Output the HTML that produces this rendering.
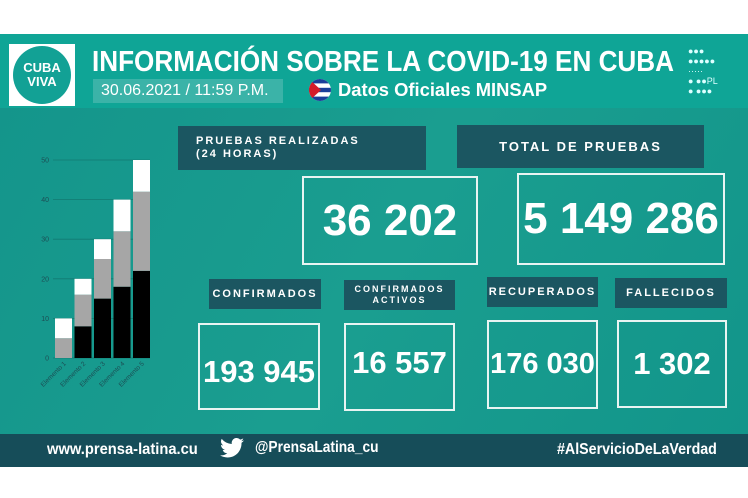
<!DOCTYPE html>
<html><head><meta charset="utf-8"><style>
*{margin:0;padding:0;box-sizing:border-box}
body{width:748px;height:498px;background:#fff;position:relative;overflow:hidden;font-family:"Liberation Sans",sans-serif;color:#fff}
.abs{position:absolute}
.lbl{position:absolute;background:#1b5661;font-weight:bold;font-size:11px;letter-spacing:2px;display:flex;align-items:center;justify-content:center;text-align:center;line-height:13px}
.box{position:absolute;border:2px solid #e8f4f2;display:flex;align-items:center;justify-content:center;font-weight:bold;font-size:31px;white-space:nowrap}
.cond{display:inline-block;transform-origin:left center;white-space:nowrap;font-weight:bold}
</style></head><body>
<div class="abs" style="left:0;top:34px;width:748px;height:74px;background:#0fa596"></div>
<div class="abs" style="left:0;top:108px;width:748px;height:326px;background:linear-gradient(120deg,#14958b,#1a9e90 50%,#12958a)"></div>
<div class="abs" style="left:9px;top:44px;width:66px;height:62px;background:#fff;display:flex;align-items:center;justify-content:center">
 <div style="width:58px;height:58px;border-radius:50%;background:#12a195;text-align:center;font-weight:bold;font-size:13px;line-height:14px;padding-top:15px">CUBA<br>VIVA</div></div>
<div class="abs" style="left:92px;top:46px;font-size:29px;line-height:32px"><span class="cond" style="transform:scaleX(0.9)">INFORMACIÓN SOBRE LA COVID-19 EN CUBA</span></div>
<div class="abs" style="left:93px;top:79px;width:190px;height:24px;background:#3bb3a8;font-size:16px;line-height:24px;padding-left:8px"><span class="cond" style="font-weight:normal">30.06.2021 / 11:59 P.M.</span></div>
<svg class="abs" style="left:309px;top:79px" width="22" height="22"><defs><clipPath id="c"><circle cx="11" cy="11" r="11"/></clipPath></defs><g clip-path="url(#c)"><rect width="22" height="22" fill="#fff"/><rect y="0" width="22" height="4.4" fill="#1b3f9a"/><rect y="8.8" width="22" height="4.4" fill="#1b3f9a"/><rect y="17.6" width="22" height="4.4" fill="#1b3f9a"/><polygon points="0,0 12,11 0,22" fill="#d41c2a"/></g></svg>
<div class="abs" style="left:338px;top:79px;font-size:18px;line-height:22px"><span class="cond" style="transform:scaleX(1.02)">Datos Oficiales MINSAP</span></div>
<div class="abs" style="left:688px;top:46px;width:52px;height:52px;font-size:9px;line-height:10px;color:#dff">●●●<br>●●●●●<br>·····<br>● ●●PL<br>● ●●●</div>

<div class="lbl" style="left:178px;top:126px;width:248px;height:44px;justify-content:flex-start;text-align:left;padding-left:18px">PRUEBAS REALIZADAS<br>(24 HORAS)</div>
<div class="lbl" style="left:457px;top:125px;width:247px;height:43px;font-size:13px">TOTAL DE PRUEBAS</div>
<div class="box" style="left:302px;top:176px;width:176px;height:89px;font-size:44px">36 202</div>
<div class="box" style="left:517px;top:173px;width:208px;height:92px;font-size:44px">5 149 286</div>

<div class="lbl" style="left:209px;top:279px;width:112px;height:30px">CONFIRMADOS</div>
<div class="lbl" style="left:344px;top:280px;width:111px;height:30px;font-size:9px;line-height:11px">CONFIRMADOS<br>ACTIVOS</div>
<div class="lbl" style="left:487px;top:277px;width:111px;height:30px">RECUPERADOS</div>
<div class="lbl" style="left:615px;top:278px;width:112px;height:30px">FALLECIDOS</div>
<div class="box" style="left:198px;top:323px;width:122px;height:87px;padding-top:10px">193 945</div>
<div class="box" style="left:344px;top:323px;width:111px;height:88px;padding-bottom:8px">16 557</div>
<div class="box" style="left:487px;top:320px;width:111px;height:89px;font-size:29px">176 030</div>
<div class="box" style="left:617px;top:320px;width:110px;height:88px">1 302</div>

<svg class="abs" id="chart" style="left:20px;top:150px" width="150" height="250"></svg>

<div class="abs" style="left:0;top:434px;width:748px;height:33px;background:#164d59"></div>
<div class="abs" style="left:47px;top:439px;font-size:16px;line-height:22px"><span class="cond" style="transform:scaleX(0.92)">www.prensa-latina.cu</span></div>
<svg class="abs" style="left:220px;top:438px" width="24" height="20" viewBox="0 0 24 20"><path d="M24 2.4a9.8 9.8 0 0 1-2.8.8A5 5 0 0 0 23.3.4a9.9 9.9 0 0 1-3.1 1.2A4.9 4.9 0 0 0 11.8 6 14 14 0 0 1 1.7.9a4.9 4.9 0 0 0 1.5 6.6A4.9 4.9 0 0 1 1 6.9a4.9 4.9 0 0 0 3.9 4.9 4.9 4.9 0 0 1-2.2.1 4.9 4.9 0 0 0 4.6 3.4A9.9 9.9 0 0 1 0 17.3 14 14 0 0 0 7.5 19.5c9.1 0 14-7.5 14-14v-.6A10 10 0 0 0 24 2.4z" fill="#fff"/></svg>
<div class="abs" style="left:255px;top:437px;font-size:16px;line-height:22px"><span class="cond" style="transform:scaleX(0.86)">@PrensaLatina_cu</span></div>
<div class="abs" style="left:557px;top:439px;font-size:16px;line-height:22px"><span class="cond" style="transform:scaleX(0.89)">#AlServicioDeLaVerdad</span></div>

<script>
const categories=["Elemento 1","Elemento 2","Elemento 3","Elemento 4","Elemento 5"];
const seriesBlack=[0,8,15,18,22];
const seriesGray=[5,8,10,14,20];
const seriesWhite=[5,4,5,8,8];
const ticks=[0,10,20,30,40,50];
const svg=document.getElementById('chart');
const NS='http://www.w3.org/2000/svg';
const y0=208,yTop=10,maxV=50;
const y=v=>y0-(v/maxV)*(y0-yTop);
const x=i=>35+i*19.5;
const bw=17;
ticks.forEach(t=>{
 const l=document.createElementNS(NS,'line');
 
 
 l.setAttribute('x1',33);l.setAttribute('x2',130);l.setAttribute('y1',y(t));l.setAttribute('y2',y(t));
 l.setAttribute('stroke','#127a72');l.setAttribute('stroke-width','0.8');svg.appendChild(l);
 const tx=document.createElementNS(NS,'text');
 
 
 tx.setAttribute('x',29);tx.setAttribute('y',y(t)+2.5);tx.setAttribute('text-anchor','end');
 tx.setAttribute('font-size','7');tx.setAttribute('fill','#1c4f55');tx.setAttribute('font-family','Liberation Sans');
 tx.textContent=t;svg.appendChild(tx);
});
categories.forEach((c,i)=>{
 let base=0;
 [[seriesBlack,'#000'],[seriesGray,'#a6a6a6'],[seriesWhite,'#fff']].forEach(([s,col])=>{
  const v=s[i];
  if(v>0){
   const r=document.createElementNS(NS,'rect');
   
   
   r.setAttribute('x',x(i));r.setAttribute('width',bw);
   r.setAttribute('y',y(base+v));r.setAttribute('height',y(base)-y(base+v));
   r.setAttribute('fill',col);svg.appendChild(r);
  }
  base+=v;
 });
 const tx=document.createElementNS(NS,'text');
 
 
 const cx=x(i)+bw/2+3,cy=y0+6;
 tx.setAttribute('x',cx);tx.setAttribute('y',cy);tx.setAttribute('text-anchor','end');
 tx.setAttribute('transform','rotate(-45 '+cx+' '+cy+')');
 tx.setAttribute('font-size','6.5');tx.setAttribute('fill','#1c4f55');tx.setAttribute('font-family','Liberation Sans');
 tx.textContent=c;svg.appendChild(tx);
});
</script>
</body></html>
